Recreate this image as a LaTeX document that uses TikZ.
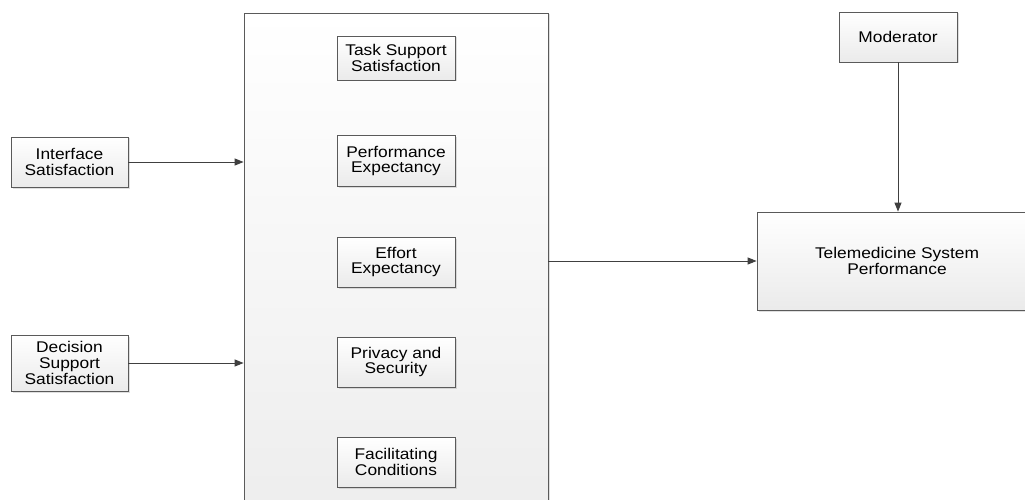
\documentclass[tikz,border=0pt]{standalone}
\usepackage{fontspec}
\setmainfont{Liberation Sans}[FakeStretch=1.12]
\usetikzlibrary{shadows,arrows.meta}
\definecolor{boxline}{HTML}{5A5A5A}
\definecolor{arrline}{HTML}{404040}
\begin{document}
\begin{tikzpicture}[x=1pt,y=-1pt,
    box/.style={draw=boxline,line width=0.8pt,top color=white,bottom color=black!8,
      drop shadow={shadow xshift=1.5pt,shadow yshift=-1.5pt,opacity=0.25},
      align=center,inner sep=0pt,font=\fontsize{15.5}{15.9}\selectfont},
    flow/.style={draw=arrline,line width=1pt,-{Triangle[length=9pt,width=7pt]}}]

        \useasboundingbox (0,0) rectangle (1025,500);
        \clip (0,0) rectangle (1025,500);
        \fill[white] (0,0) rectangle (1025,500);

        \begin{scope}[every node/.style={box}]
          \node[minimum width=304pt,minimum height=500pt,top color=white,bottom color=black!7] (group) at (396,263) {};
          \node[minimum width=118pt,minimum height=44pt] (task) at (396,58)  {Task Support\\Satisfaction};
          \node[minimum width=118pt,minimum height=51pt] (perf) at (396,161) {Performance\\Expectancy};
          \node[minimum width=118pt,minimum height=50pt] (effort) at (396,262) {Effort\\Expectancy};
          \node[minimum width=118pt,minimum height=50pt] (priv) at (396,362) {Privacy and\\Security};
          \node[minimum width=118pt,minimum height=50pt] (facil) at (396,462) {Facilitating\\Conditions};
          \node[minimum width=117pt,minimum height=50pt] (iface) at (69.5,162) {Interface\\Satisfaction};
          \node[minimum width=117pt,minimum height=56pt] (dec) at (69.5,363) {Decision\\Support\\Satisfaction};
          \node[minimum width=118pt,minimum height=50pt] (mod) at (898,37) {Moderator};
          \node[minimum width=280pt,minimum height=98pt] (tele) at (897,261) {Telemedicine System\\Performance};
        \end{scope}

        % links into and out of the group
        \draw[flow] (iface.east) -- (iface.east -| group.west);
        \draw[flow] (dec.east) -- (dec.east -| group.west);
        \draw[flow] (tele.west -| group.east) -- (tele.west);
        \draw[flow] (mod.south) -- (mod.south |- tele.north);

      \end{tikzpicture}
\end{document}
